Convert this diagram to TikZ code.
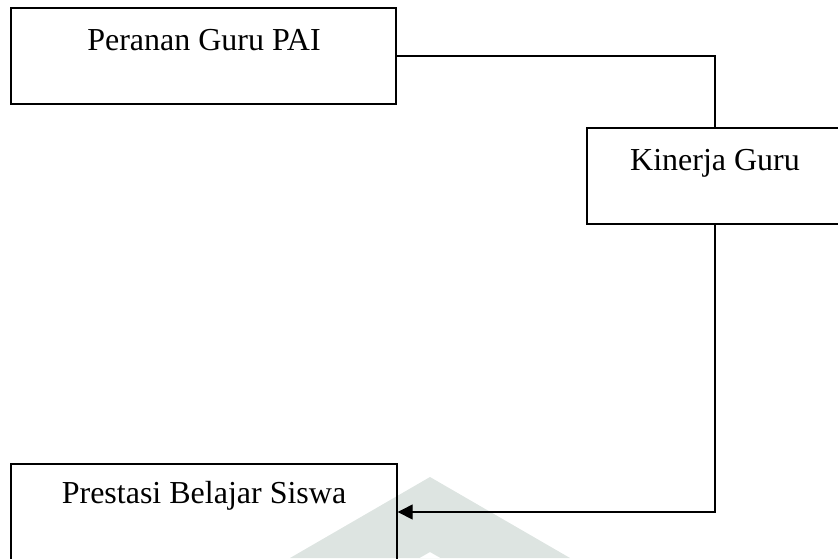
\documentclass[tikz,border=0pt]{standalone}
\usepackage{fontspec}
\setmainfont{Liberation Serif}
\usetikzlibrary{arrows.meta}
\definecolor{wm}{RGB}{221,228,225}
\begin{document}
\begin{tikzpicture}[x=1pt,y=-1pt,
  boxstyle/.style={draw=black,line width=1.4pt,rectangle,inner sep=0pt},
  labelstyle/.style={font=\fontsize{32}{38}\selectfont,anchor=base,inner sep=0pt},
  linkstyle/.style={draw=black,line width=1.4pt}]
\useasboundingbox (0,0) rectangle (838,558);
\clip (0,0) rectangle (838,558);
\fill[wm,even odd rule] (430,477) -- (570,558) -- (290,558) -- cycle
  (430,552) -- (440.5,558) -- (419.5,558) -- cycle;
\node[boxstyle,minimum width=385pt,minimum height=96pt] (b1) at (203.5,56) {};
\node[boxstyle,minimum width=262pt,minimum height=96pt] (b2) at (718,176) {};
\node[boxstyle,minimum width=386pt,minimum height=96pt] (b3) at (204,512) {};
\node[labelstyle] (t1) at (204,50) {Peranan Guru PAI};
\node[labelstyle] (t2) at (715,170) {Kinerja Guru};
\node[labelstyle] (t3) at (204,503) {Prestasi Belajar Siswa};
\coordinate (c2n) at (715,128);
\coordinate (c2s) at (715,224);
\draw[linkstyle] (b1.east) -| (c2n);
\draw[linkstyle,-{Triangle[length=15pt,width=15pt]}] (c2s) |- (b3.east);
\end{tikzpicture}
\end{document}
